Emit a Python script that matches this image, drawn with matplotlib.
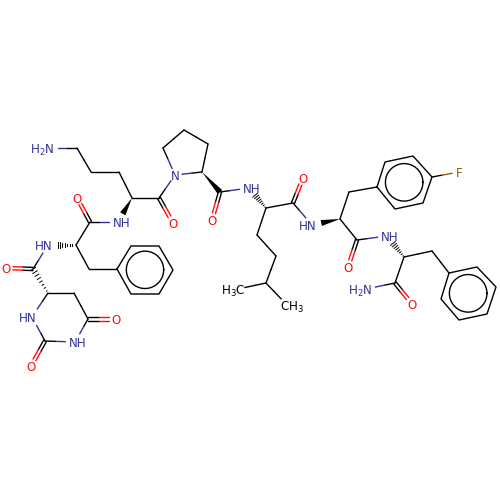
import numpy as np
import matplotlib
matplotlib.use('Agg')
import matplotlib.pyplot as plt

plt.rcParams['font.family'] = ['DejaVu Sans']
plt.rcParams['mathtext.default'] = 'regular'

# atom positions, in pixels
atom_names = ['N_lys', 'a1', 'a2', 'a3', 'ca_lys', 'c_lys', 'o_lys', 'n_pro', 'p1', 'p2', 'p3', 'ca_pro',
              'c_pro', 'o_pro', 'n_leu', 'ca_leu', 'c_leu', 'o_leu', 'l1', 'l2', 'l3', 'me1', 'me2',
              'n_fph', 'ca_fph', 'b_fph', 'f1', 'f2', 'f3', 'f4', 'f5', 'f6', 'F', 'c_fph', 'o_fph',
              'n_ph', 'ca_ph', 'b_ph', 'r1', 'r2', 'r3', 'r4', 'r5', 'r6', 'c_ph', 'o_ph', 'n_am',
              'n_lysh', 'c_ph2', 'o_ph2', 'ca_ph2', 'n_ph2', 'b_ph2', 's1', 's2', 's3', 's4', 's5', 's6',
              'c_ur', 'o_ur', 'u1', 'u2', 'u3', 'o_u3', 'u4', 'u5', 'o_u5', 'u6']
atom_x = [48, 77, 91, 119, 132, 159, 173, 175, 163, 184, 208, 202,
          220, 212, 249, 266, 293, 303, 257, 276, 266, 238, 286,
          312, 340, 349, 377, 385, 413, 432, 423, 395, 459, 357, 348,
          387, 404, 432, 449, 477, 496, 487, 459, 441, 395, 412, 366,
          118, 90, 77, 76, 48, 89, 117, 131, 159, 173, 159, 131,
          33, 6, 48, 74, 88, 116, 75, 45, 31, 32]
atom_y = [148, 148, 172, 172, 198, 198, 223, 175, 148, 130, 144, 172,
          192, 220, 188, 208, 203, 178, 235, 256, 283, 289, 304,
          225, 219, 192, 187, 162, 156, 177, 203, 209, 172, 240, 267,
          236, 257, 251, 273, 267, 287, 314, 320, 299, 283, 304, 289,
          222, 222, 198, 245, 245, 269, 269, 246, 246, 270, 294, 294,
          269, 268, 293, 293, 319, 319, 342, 341, 366, 317]

# text labels: atom, text, centre of the text
label_atoms = ['N_lys', 'n_lysh', 'n_ph2', 'u6', 'u4', 'n_pro', 'n_leu', 'n_fph', 'n_ph', 'n_am',
               'o_lys', 'o_pro', 'o_leu', 'o_fph', 'o_ph', 'o_ph2', 'o_ur', 'o_u3', 'o_u5', 'F', 'me1', 'me2']
label_texts = ['H$_2$N', 'NH', 'HN', 'HN', 'NH', 'N', 'NH', 'HN', 'NH', 'H$_2$N',
               'O', 'O', 'O', 'O', 'O', 'O', 'O', 'O', 'O', 'F', 'H$_3$C', 'CH$_3$']
label_cx = [42, 122, 44, 28, 78, 175, 252, 308, 390, 360,
            173, 212, 303, 348, 412, 77, 6, 116, 31, 459, 233, 292]
label_cy = [148, 222, 245, 317, 342, 175, 188, 225, 236, 289,
            223, 220, 178, 267, 304, 198, 268, 319, 366, 172, 289, 305]

single_bonds = [('N_lys', 'a1'), ('a1', 'a2'), ('a2', 'a3'), ('a3', 'ca_lys'), ('ca_lys', 'c_lys'),
                ('c_lys', 'n_pro'), ('n_pro', 'p1'), ('p1', 'p2'), ('p2', 'p3'), ('p3', 'ca_pro'),
                ('ca_pro', 'n_pro'), ('c_pro', 'n_leu'), ('ca_leu', 'c_leu'), ('ca_leu', 'l1'), ('l1', 'l2'),
                ('l2', 'l3'), ('l3', 'me1'), ('l3', 'me2'), ('c_leu', 'n_fph'), ('ca_fph', 'b_fph'),
                ('b_fph', 'f1'), ('f4', 'F'), ('ca_fph', 'c_fph'), ('c_fph', 'n_ph'), ('ca_ph', 'b_ph'),
                ('b_ph', 'r1'), ('ca_ph', 'c_ph'), ('c_ph', 'n_am'), ('n_lysh', 'c_ph2'), ('c_ph2', 'ca_ph2'),
                ('ca_ph2', 'b_ph2'), ('b_ph2', 's1'), ('n_ph2', 'c_ur'), ('c_ur', 'u1'), ('u1', 'u2'),
                ('u2', 'u3'), ('u3', 'u4'), ('u4', 'u5'), ('u5', 'u6'), ('u6', 'u1')]
single_bonds.remove(('c_ur', 'u1'))  # this one is the hashed bond below
double_bonds = [('c_lys', 'o_lys'), ('c_pro', 'o_pro'), ('c_leu', 'o_leu'), ('c_fph', 'o_fph'), ('c_ph', 'o_ph'),
                ('c_ph2', 'o_ph2'), ('c_ur', 'o_ur'), ('u3', 'o_u3'), ('u5', 'o_u5')]
wedge_bonds = [('ca_lys', 'n_lysh'), ('ca_pro', 'c_pro'), ('ca_fph', 'n_fph')]
hash_bonds = [('ca_ph2', 'n_ph2'), ('u1', 'c_ur'), ('ca_leu', 'n_leu'), ('ca_ph', 'n_ph')]
rings = [['f1', 'f2', 'f3', 'f4', 'f5', 'f6'], ['r1', 'r2', 'r3', 'r4', 'r5', 'r6'], ['s1', 's2', 's3', 's4', 's5', 's6']]

colors = {'N': '#33339a', 'O': '#ff0d0d', 'F': '#8c6400'}
pos = {n: np.array([x, y], dtype=float) for n, x, y in zip(atom_names, atom_x, atom_y)}
labels = dict(zip(label_atoms, label_texts))
LW = 1.0


def atom_color(name):
    if name not in labels or name in ('me1', 'me2'):
        return 'black'
    if name == 'F':
        return colors['F']
    if name.startswith('o_'):
        return colors['O']
    return colors['N']


def gap(name):
    # NH labels are wider, so the bond has to stop further off
    if name not in labels:
        return 0
    return 9.5 if 'H' in labels[name] and name not in ('me1', 'me2') else 7


def trim(a, b):
    pa, pb = pos[a].copy(), pos[b].copy()
    d = (pb - pa) / np.linalg.norm(pb - pa)
    return pa + d * gap(a), pb - d * gap(b)


def draw_bond(ax, pa, pb, ca, cb):
    mid = (pa + pb) / 2
    ax.plot([pa[0], mid[0]], [pa[1], mid[1]], color=ca, lw=LW, solid_capstyle='round')
    ax.plot([mid[0], pb[0]], [mid[1], pb[1]], color=cb, lw=LW, solid_capstyle='round')


fig = plt.figure(figsize=(5, 5), dpi=100)
ax = fig.add_axes([0, 0, 1, 1])
ax.set_xlim(0, 500)
ax.set_ylim(500, 0)
ax.axis('off')

for a, b in single_bonds:
    pa, pb = trim(a, b)
    draw_bond(ax, pa, pb, atom_color(a), atom_color(b))

for a, b in double_bonds:
    pa, pb = trim(a, b)
    d = (pb - pa) / np.linalg.norm(pb - pa)
    n = np.array([-d[1], d[0]])
    for s in (-1.6, 1.6):
        draw_bond(ax, pa + n * s, pb + n * s, atom_color(a), atom_color(b))

for ring in rings:
    pts = np.array([pos[r] for r in ring])
    pts = np.vstack([pts, pts[0]])
    ax.plot(pts[:, 0], pts[:, 1], color='black', lw=LW, solid_joinstyle='round')
    c = pts[:-1].mean(axis=0)
    rad = np.linalg.norm(pts[:-1] - c, axis=1).mean() * 0.67
    t = np.linspace(0, 2 * np.pi, 90)
    ax.plot(c[0] + rad * np.cos(t), c[1] + rad * np.sin(t), color='black', lw=LW)

for a, b in wedge_bonds:
    pa, pb = trim(a, b)
    d = (pb - pa) / np.linalg.norm(pb - pa)
    n = np.array([-d[1], d[0]])
    ax.fill([pa[0], pb[0] + n[0] * 3, pb[0] - n[0] * 3], [pa[1], pb[1] + n[1] * 3, pb[1] - n[1] * 3],
            color='black', lw=0)

for a, b in hash_bonds:
    pa, pb = trim(a, b)
    d = (pb - pa) / np.linalg.norm(pb - pa)
    n = np.array([-d[1], d[0]])
    L = np.linalg.norm(pb - pa)
    for f in np.linspace(0.08, 1, 8):
        p = pa + d * L * f
        w = 3 * f
        ax.plot([p[0] - n[0] * w, p[0] + n[0] * w], [p[1] - n[1] * w, p[1] + n[1] * w], color='black', lw=0.7)

for name, txt, cx, cy in zip(label_atoms, label_texts, label_cx, label_cy):
    ax.text(cx, cy, txt, color=atom_color(name), fontsize=8.6, ha='center', va='center_baseline')

fig.savefig('out.png', dpi=100)
